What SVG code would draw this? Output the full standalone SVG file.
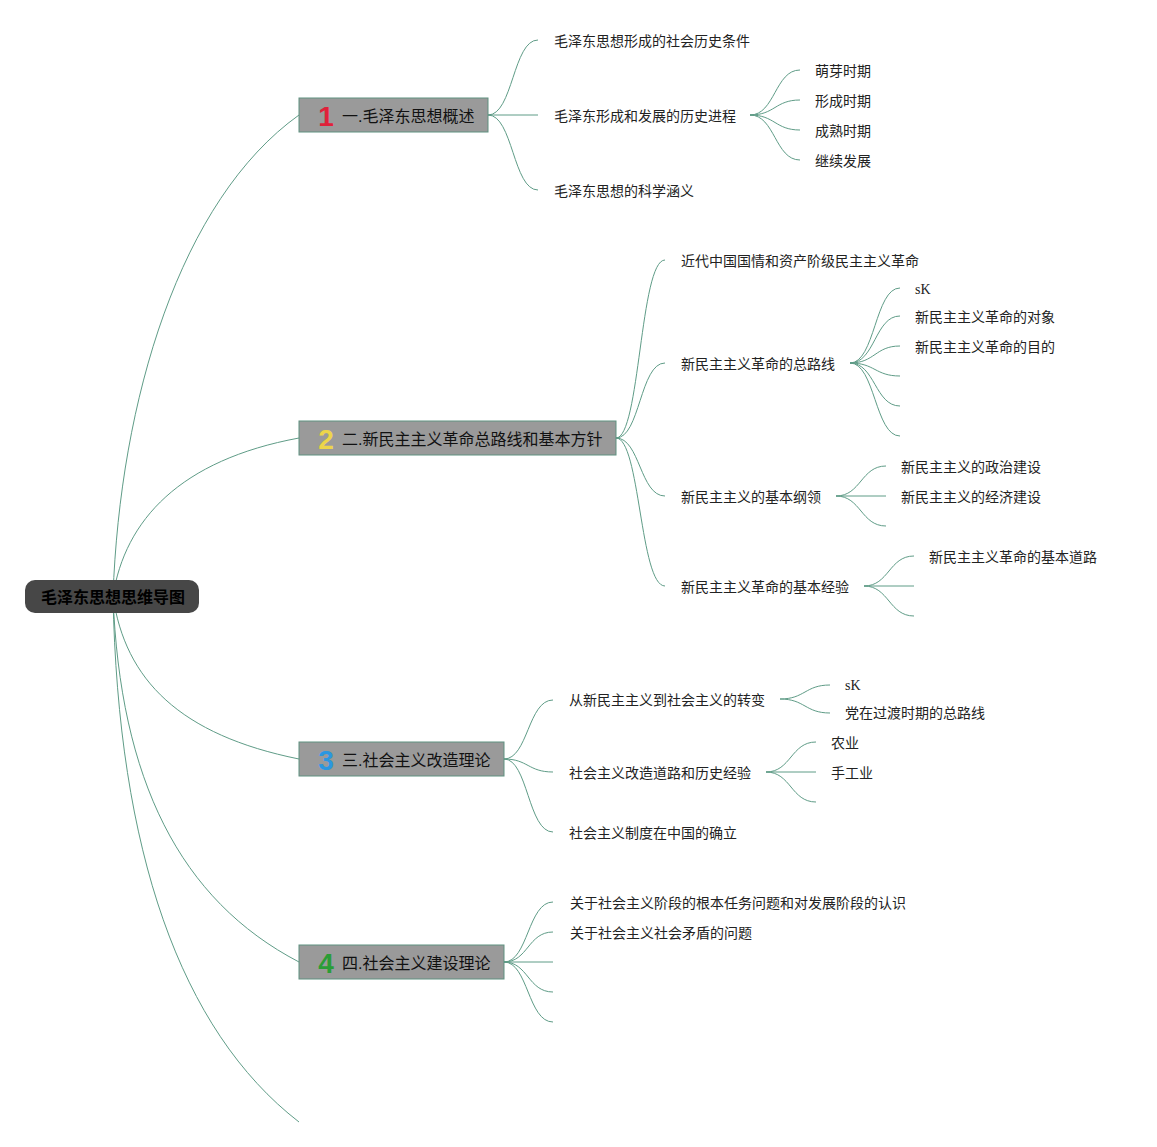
<svg xmlns="http://www.w3.org/2000/svg" width="1157" height="1147" viewBox="0 0 1157 1147">
<style>
.c{fill:none;stroke:#5f9c87;stroke-width:1}
.b{fill:#9a9a9a;stroke:#5f9180;stroke-width:1}
.r{fill:#474747}
.t{font-family:"Liberation Sans","Noto Sans CJK SC",sans-serif;font-size:14px;fill:#222;dominant-baseline:central}
.s{font-family:"Liberation Serif",serif;font-size:14px;fill:#222;dominant-baseline:central}
.bt{font-family:"Liberation Sans","Noto Sans CJK SC",sans-serif;font-size:16px;fill:#111;dominant-baseline:central}
.rt{font-family:"Liberation Sans","Noto Sans CJK SC",sans-serif;font-size:16px;font-weight:bold;fill:#000;dominant-baseline:central}
.ic{font-family:"Liberation Sans","DejaVu Sans",sans-serif;font-size:28px;font-weight:bold;text-anchor:middle;dominant-baseline:central}
</style>
<rect width="1157" height="1147" fill="#fff"/>
<g id="connectors">
<path class="c" d="M113,596 C120,400 180,200 299,115"/>
<path class="c" d="M113,596 C125,520 180,460 299,438"/>
<path class="c" d="M113,596 C125,680 180,735 299,759"/>
<path class="c" d="M113,596 C120,780 180,900 299,962"/>
<path class="c" d="M113,596 C118,850 180,1030 299,1122"/>
<path class="c" d="M488,115 C513,115 513,40 538,40"/>
<path class="c" d="M488,115 L538,115"/>
<path class="c" d="M488,115 C513,115 513,190 538,190"/>
<path class="c" d="M750,115 C775,115 775,70 800,70"/>
<path class="c" d="M750,115 C775,115 775,100 800,100"/>
<path class="c" d="M750,115 C775,115 775,130 800,130"/>
<path class="c" d="M750,115 C775,115 775,160 800,160"/>
<path class="c" d="M616,438 C640,438 640,260 665,260"/>
<path class="c" d="M616,438 C640,438 640,363 665,363"/>
<path class="c" d="M616,438 C640,438 640,496 665,496"/>
<path class="c" d="M616,438 C640,438 640,586 665,586"/>
<path class="c" d="M850,363 C875,363 875,288 900,288"/>
<path class="c" d="M850,363 C875,363 875,316 900,316"/>
<path class="c" d="M850,363 C875,363 875,346 900,346"/>
<path class="c" d="M850,363 C875,363 875,376 900,376"/>
<path class="c" d="M850,363 C875,363 875,406 900,406"/>
<path class="c" d="M850,363 C875,363 875,436 900,436"/>
<path class="c" d="M836,496 C861,496 861,466 886,466"/>
<path class="c" d="M836,496 L886,496"/>
<path class="c" d="M836,496 C861,496 861,526 886,526"/>
<path class="c" d="M864,586 C889,586 889,556 914,556"/>
<path class="c" d="M864,586 L914,586"/>
<path class="c" d="M864,586 C889,586 889,616 914,616"/>
<path class="c" d="M504,759 C528,759 528,700 553,700"/>
<path class="c" d="M504,759 C528,759 528,772 553,772"/>
<path class="c" d="M504,759 C528,759 528,832 553,832"/>
<path class="c" d="M780,699 C805,699 805,685 830,685"/>
<path class="c" d="M780,699 C805,699 805,713 830,713"/>
<path class="c" d="M766,772 C791,772 791,742 816,742"/>
<path class="c" d="M766,772 L816,772"/>
<path class="c" d="M766,772 C791,772 791,802 816,802"/>
<path class="c" d="M504,962 C528,962 528,902 553,902"/>
<path class="c" d="M504,962 C528,962 528,932 553,932"/>
<path class="c" d="M504,962 L553,962"/>
<path class="c" d="M504,962 C528,962 528,992 553,992"/>
<path class="c" d="M504,962 C528,962 528,1022 553,1022"/>
</g>
<g id="root">
<rect class="r" x="25" y="580" width="174" height="33" rx="10"/>
<text class="rt" x="41" y="597">毛泽东思想思维导图</text>
</g>
<g id="n1">
<rect class="b" x="299" y="98" width="189" height="34"/>
<text class="ic" x="326" y="116" fill="#e0213a">1</text>
<text class="bt" x="342" y="116">一.毛泽东思想概述</text>
</g>
<g id="n2">
<rect class="b" x="299" y="421" width="317" height="34"/>
<text class="ic" x="326" y="439" fill="#ecd54a">2</text>
<text class="bt" x="342" y="439">二.新民主主义革命总路线和基本方针</text>
</g>
<g id="n3">
<rect class="b" x="299" y="742" width="205" height="34"/>
<text class="ic" x="326" y="760" fill="#2b97e0">3</text>
<text class="bt" x="342" y="760">三.社会主义改造理论</text>
</g>
<g id="n4">
<rect class="b" x="299" y="945" width="205" height="34"/>
<text class="ic" x="326" y="963" fill="#2a9d36">4</text>
<text class="bt" x="342" y="963">四.社会主义建设理论</text>
</g>
<g id="n1-children">
<text class="t" x="554" y="41">毛泽东思想形成的社会历史条件</text>
<text class="t" x="554" y="116">毛泽东形成和发展的历史进程</text>
<text class="t" x="554" y="191">毛泽东思想的科学涵义</text>
<text class="t" x="815" y="71">萌芽时期</text>
<text class="t" x="815" y="101">形成时期</text>
<text class="t" x="815" y="131">成熟时期</text>
<text class="t" x="815" y="161">继续发展</text>
</g>
<g id="n2-children">
<text class="t" x="681" y="261">近代中国国情和资产阶级民主主义革命</text>
<text class="t" x="681" y="364">新民主主义革命的总路线</text>
<text class="t" x="681" y="497">新民主主义的基本纲领</text>
<text class="t" x="681" y="587">新民主主义革命的基本经验</text>
<text class="s" x="915" y="289">sK</text>
<text class="t" x="915" y="317">新民主主义革命的对象</text>
<text class="t" x="915" y="347">新民主主义革命的目的</text>
<text class="t" x="901" y="467">新民主主义的政治建设</text>
<text class="t" x="901" y="497">新民主主义的经济建设</text>
<text class="t" x="929" y="557">新民主主义革命的基本道路</text>
</g>
<g id="n3-children">
<text class="t" x="569" y="700">从新民主主义到社会主义的转变</text>
<text class="t" x="569" y="773">社会主义改造道路和历史经验</text>
<text class="t" x="569" y="833">社会主义制度在中国的确立</text>
<text class="s" x="845" y="685">sK</text>
<text class="t" x="845" y="713">党在过渡时期的总路线</text>
<text class="t" x="831" y="743">农业</text>
<text class="t" x="831" y="773">手工业</text>
</g>
<g id="n4-children">
<text class="t" x="570" y="903">关于社会主义阶段的根本任务问题和对发展阶段的认识</text>
<text class="t" x="570" y="933">关于社会主义社会矛盾的问题</text>
</g>
</svg>
